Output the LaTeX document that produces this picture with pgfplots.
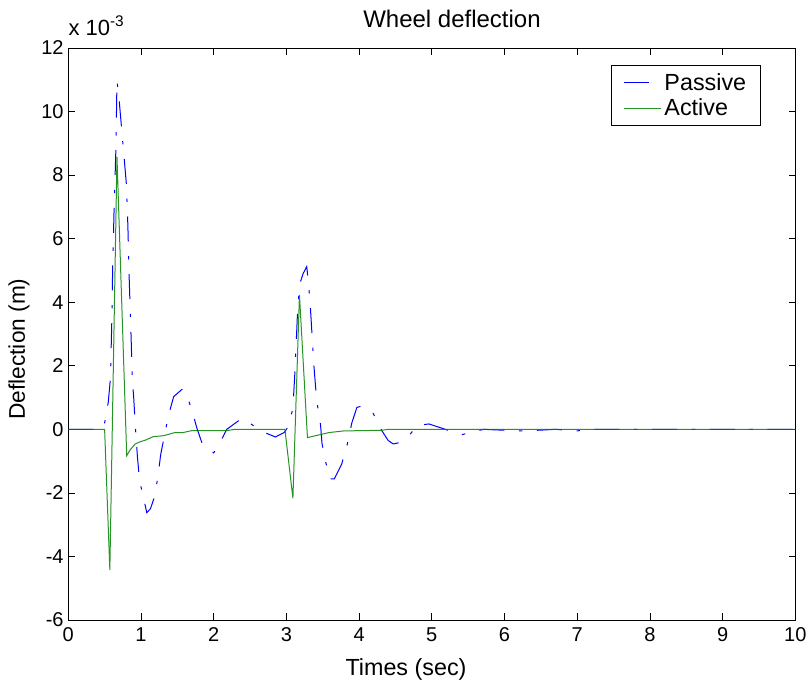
\documentclass[border=0pt]{standalone}
\usepackage{fontspec}
\setmainfont{Liberation Sans}
\usepackage{pgfplots}
\pgfplotsset{compat=1.18}
\definecolor{mblue}{rgb}{0,0,1}
\definecolor{mgreen}{rgb}{0,0.5,0}
\begin{document}
\begin{tikzpicture}
\begin{axis}[
  at={(0,0)}, anchor=south west,
  width=545.25pt, height=429pt, scale only axis,
  xmin=0, xmax=10, ymin=-6, ymax=12,
  xtick={0,1,...,10}, ytick={-6,-4,...,12},
  tick align=inside, tick pos=both, major tick length=5pt,
  axis line style={line width=0.6pt},
  every tick/.style={black, line width=0.5pt},
  /pgf/number format/assume math mode=true,
  tick label style={font=\fontsize{15}{18}\selectfont},
  xticklabel style={yshift=-2pt},
  legend style={at={(0.9532,0.9703)}, anchor=north east, draw=black, line width=0.6pt,
    fill=white, font=\fontsize{17.5}{20}\selectfont, inner xsep=9pt, inner ysep=4pt,
    row sep=1pt},
  legend cell align=left,
  legend image code/.code={\draw[#1] (0pt,0pt) -- (28pt,0pt);},
  /tikz/every even column/.style={column sep=5pt},
]
% Passive (x 1e-3 m)
\addplot[mblue, line width=0.75pt, dash pattern=on 18.75pt off 11pt on 2.5pt off 11pt] coordinates {
(0,0) (0.45,0) (0.5,0.2) (0.55,0.85) (0.58,1.6) (0.6,3.5) (0.61,5.0) (0.63,6.9) (0.655,8.8)
(0.67,10.97) (0.70,10.36) (0.74,9.3) (0.77,8.5) (0.80,7.7) (0.82,6.4) (0.84,4.6) (0.865,2.86)
(0.88,1.6) (0.9,1.0) (0.92,0.2) (0.95,-0.83) (0.98,-1.6) (1.03,-2.11) (1.08,-2.62) (1.13,-2.5)
(1.19,-2.1) (1.24,-1.38) (1.27,-0.81) (1.32,-0.23) (1.38,0.45) (1.45,1.03) (1.57,1.27) (1.64,1.0)
(1.70,0.61) (1.77,0.03) (1.85,-0.5) (2.0,-0.74) (2.07,-0.5) (2.18,0) (2.39,0.35) (2.5,0.19)
(2.62,0) (2.7,-0.1) (2.85,-0.24) (2.97,-0.1) (3.03,0.1) (3.09,0.67) (3.12,1.9) (3.15,3.5)
(3.18,4.54) (3.23,4.9) (3.28,5.12) (3.305,4.59) (3.33,3.86) (3.36,2.7) (3.38,1.97) (3.40,1.39)
(3.42,0.87) (3.47,0.14) (3.49,-0.44) (3.54,-1.02) (3.6,-1.56) (3.66,-1.56) (3.76,-1.1)
(3.83,-0.55) (3.9,0.2) (3.97,0.69) (4.02,0.72) (4.18,0.57) (4.31,-0.03) (4.4,-0.35) (4.47,-0.46)
(4.55,-0.42) (4.69,-0.19) (4.8,0.12) (4.96,0.17) (5.16,0.02) (5.41,-0.17) (5.71,0) (6.22,-0.05)
(6.45,-0.03) (6.7,0) (7.0,-0.05) (7.15,0) (10,0)
};
\addlegendentry{Passive}
% Active
\addplot[mgreen, line width=0.75pt, opacity=0.85] coordinates {
(0,0) (0.5,0) (0.572,-4.43) (0.67,8.58) (0.804,-0.83) (0.85,-0.65) (0.92,-0.46) (0.99,-0.39)
(1.06,-0.34) (1.17,-0.23) (1.31,-0.2) (1.47,-0.1) (1.58,-0.1) (1.70,-0.04) (2.18,-0.04) (2.29,0)
(2.98,0) (3.09,-2.17) (3.18,4.23) (3.29,-0.26) (3.59,-0.1) (3.79,-0.05) (4.31,-0.03) (4.4,0) (10,0)
};
\addlegendentry{Active}
\end{axis}
\node[anchor=base, font=\fontsize{18}{21}\selectfont] at (287.8pt,444pt) {Wheel deflection};
\node[anchor=base, font=\fontsize{17.5}{20}\selectfont] at (253.3pt,-41.25pt) {Times (sec)};
\node[anchor=base, rotate=90, font=\fontsize{17}{20}\selectfont] at (-32.5pt,203.25pt) {Deflection (m)};
\node[anchor=base west, inner sep=0pt, font=\fontsize{16.5}{19}\selectfont] at (0pt,438.75pt) {x 10\textsuperscript{-3}};
\pgfresetboundingbox
\path[use as bounding box] (-51.2pt,-50.25pt) rectangle (555.55pt,465pt);
\end{tikzpicture}
\end{document}
